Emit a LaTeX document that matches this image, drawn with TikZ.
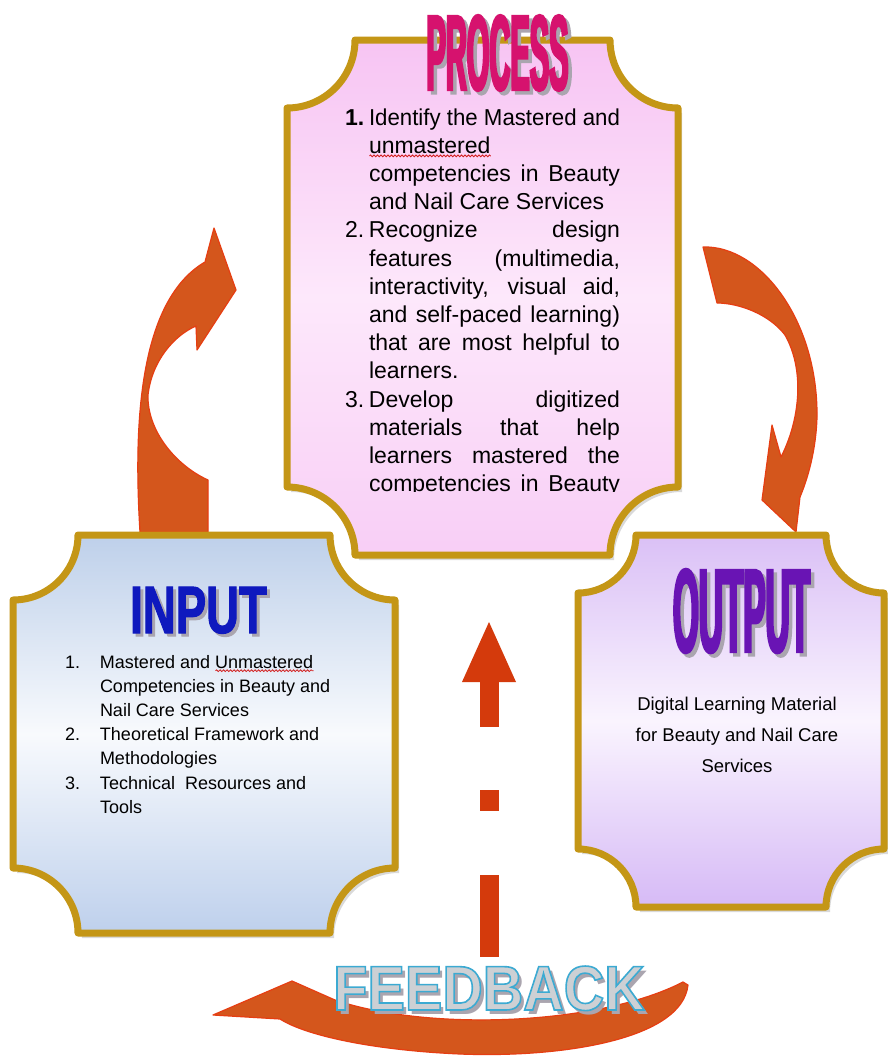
\documentclass[tikz,border=0pt]{standalone}
\usepackage{fontspec}
\usepackage{graphicx}
\setmainfont{Liberation Sans}
\newfontfamily\procfont[FakeStretch=0.27,FakeBold=2]{Liberation Sans}
\newfontfamily\outfont[FakeStretch=0.28,FakeBold=2]{Liberation Sans}
\newfontfamily\infont[FakeStretch=0.68,FakeBold=1.5]{Liberation Sans}
\newfontfamily\fbfont[FakeStretch=0.89]{Liberation Sans}
\usetikzlibrary{decorations.pathmorphing}
\definecolor{gold}{RGB}{196,150,22}
\definecolor{arr}{RGB}{212,86,28}
\definecolor{arrEdge}{RGB}{230,62,18}
\definecolor{vred}{RGB}{212,58,12}
\definecolor{pinkT}{RGB}{247,196,243}
\definecolor{pinkM}{RGB}{253,232,251}
\definecolor{pinkB}{RGB}{248,206,246}
\definecolor{blueT}{RGB}{190,208,234}
\definecolor{blueM}{RGB}{248,250,253}
\definecolor{blueB}{RGB}{190,208,236}
\definecolor{lavT}{RGB}{218,192,246}
\definecolor{lavM}{RGB}{250,244,254}
\definecolor{lavB}{RGB}{214,186,246}
\definecolor{procpink}{RGB}{214,18,110}
\definecolor{inblue}{RGB}{15,25,190}
\definecolor{outpurple}{RGB}{105,20,180}
\definecolor{fbfill}{RGB}{205,208,212}
\definecolor{shade}{RGB}{170,165,175}
\definecolor{squigred}{RGB}{210,30,30}
\newlength\sqw
\newcommand\squig[1]{\settowidth\sqw{#1}\makebox[0pt][l]{\raisebox{-4pt}{\tikz[x=1pt,y=1pt]\draw[squigred,line width=0.8pt,decorate,decoration={snake,amplitude=0.9pt,segment length=3.5pt}](0,0)--(\the\sqw,0);}}#1}
\newcommand\outlined[1]{\special{pdf:literal direct 2 Tr 1.6 w 0.235 0.667 0.824 RG}#1\special{pdf:literal direct 0 Tr}}
\newcommand\withshadow[3]{\makebox[0pt][l]{\kern#2\raisebox{-#2}{\textcolor{shade}{#3}}}#1}
\newcommand\pj[2]{\makebox[24pt][l]{#1}\makebox[251pt][s]{#2}}
\newcommand\pl[2]{\makebox[24pt][l]{#1}#2}
\newcommand\pfit[2]{\makebox[24pt][l]{#1}\resizebox{251pt}{\height}{#2}}
\newcommand\il[2]{\makebox[35pt][l]{#1}#2}
\newcommand\plaque[5]{(#1+#5,#2) -- (#3-#5,#2) arc[start angle=180,end angle=90,radius=#5] -- (#3,#4-#5) arc[start angle=270,end angle=180,radius=#5] -- (#1+#5,#4) arc[start angle=360,end angle=270,radius=#5] -- (#1,#2+#5) arc[start angle=90,end angle=0,radius=#5] -- cycle}
\begin{document}
\begin{tikzpicture}[x=1pt,y=-1pt,
  plaquebox/.style={draw=gold,line width=7pt,line join=round},
  boxshadow/.style={fill=black,opacity=0.15},
  bentarrow/.style={fill=arr,draw=arrEdge,line width=1.2pt,line join=round},
  vbar/.style={fill=vred},
  bodytext/.style={inner sep=0pt,outer sep=0pt,anchor=base west,text=black},
  titletext/.style={inner sep=0pt,outer sep=0pt,anchor=base}]
\useasboundingbox (0,0) rectangle (888,1063);
\fill[white] (0,0) rectangle (888,1063);

% curved arrows
\path[bentarrow] (140,532) .. controls (133,420) and (140,300) .. (205,262) -- (214,228) -- (236,290) -- (197,350) -- (196,326) .. controls (175,335) and (152,360) .. (148,395) .. controls (147,430) and (175,465) .. (208,480) -- (208,532) -- cycle;
\path[bentarrow] (703,247) .. controls (760,245) and (818,320) .. (817,417) .. controls (816,450) and (808,478) .. (800,497) -- (796,532) -- (762,500) -- (772,425) -- (781,457) .. controls (800,420) and (805,370) .. (785,335) .. controls (770,315) and (740,303) .. (717,303) -- cycle;

% process box
\path[boxshadow,shift={(4,5)}] \plaque{287}{40}{678}{555}{68};
\path[plaquebox,top color=pinkT,bottom color=pinkB,middle color=pinkM] \plaque{287}{40}{678}{555}{68};
% input box
\path[boxshadow,shift={(4,5)}] \plaque{13}{535}{395}{933}{65};
\path[plaquebox,top color=blueT,bottom color=blueB,middle color=blueM] \plaque{13}{535}{395}{933}{65};
% output box
\path[boxshadow,shift={(4,5)}] \plaque{578}{535}{884}{907}{58};
\path[plaquebox,top color=lavT,bottom color=lavB,middle color=lavM] \plaque{578}{535}{884}{907}{58};

% titles
\node[titletext,text=procpink] (proc) at (497.5,90) {\procfont\bfseries\fontsize{107.5}{110}\selectfont \withshadow{PROCESS}{3.5pt}{PROCESS}};
\node[titletext,text=inblue] (inp) at (198.5,633) {\infont\bfseries\fontsize{67}{70}\selectfont \withshadow{INPUT}{3pt}{INPUT}};
\node[titletext,text=outpurple] (outp) at (741.5,652) {\outfont\bfseries\fontsize{119}{120}\selectfont \withshadow{OUTPUT}{3.5pt}{OUTPUT}};

% process text
\begin{scope}
\clip (290,40) rectangle (680,491);
\node[bodytext] (ptext) at (345,125) {\parbox[t]{300pt}{\fontsize{23}{28.2}\selectfont
\pfit{\textbf{1.}}{Identify the Mastered and}\\
\pl{}{\squig{unmastered}}\\
\pj{}{competencies in Beauty}\\
\pl{}{and Nail Care Services}\\
\pj{2.}{Recognize design}\\
\pj{}{features (multimedia,}\\
\pj{}{interactivity, visual aid,}\\
\pj{}{and self-paced learning)}\\
\pj{}{that are most helpful to}\\
\pl{}{learners.}\\
\pj{3.}{Develop digitized}\\
\pj{}{materials that help}\\
\pj{}{learners mastered the}\\
\pj{}{competencies in Beauty}}};
\end{scope}

% input text
\node[bodytext] (intext) at (65,668) {\parbox[t]{300pt}{\fontsize{18}{24.2}\selectfont
\il{1.}{Mastered and \squig{Unmastered}}\\
\il{}{Competencies in Beauty and}\\
\il{}{Nail Care Services}\\
\il{2.}{Theoretical Framework and}\\
\il{}{Methodologies}\\
\il{3.}{Technical\ \ Resources and}\\
\il{}{Tools}}};

% output text
\node[titletext] (outtext) at (737,710) {\parbox[t]{240pt}{\centering\fontsize{18.5}{31}\selectfont Digital Learning Material\\ for Beauty and Nail Care\\ Services}};

% dashed vertical arrow
\path[vbar] (480,682) rectangle (499,727);
\path[vbar] (462,682) -- (489,622) -- (516,682) -- cycle;
\path[vbar] (480,790) rectangle (499,811);
\path[vbar] (480,875) rectangle (499,957);

% feedback arrow
\path[bentarrow] (688,985) .. controls (682,1040) and (560,1058) .. (460,1054) .. controls (370,1050) and (305,1035) .. (280,1019) -- (213,1015) -- (292,981) -- (335,1000) .. controls (430,1032) and (600,1025) .. (683,982) -- cycle;

% FEEDBACK word
\node[titletext,text=fbfill] (fb) at (489,1010) {\fbfont\bfseries\fontsize{63}{65}\selectfont \withshadow{\outlined{FEEDBACK}}{4pt}{FEEDBACK}};
\end{tikzpicture}
\end{document}
